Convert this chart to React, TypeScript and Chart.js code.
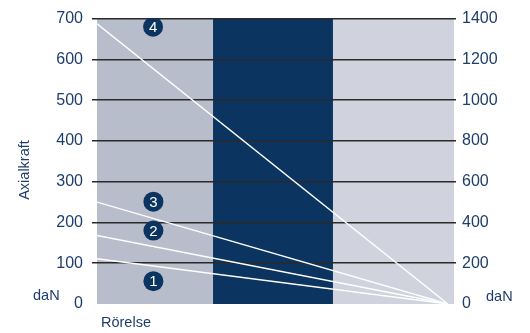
import React, { useEffect, useRef } from "react";
import { Chart, registerables } from "chart.js";

Chart.register(...registerables);

// Movement axis (Rörelse) 0..100, three background bands
const bandEdges = [0, 32.5, 66.1, 100];
const bandColors = ["#b8bdcb", "#0b3560", "#d0d3de"];

// Force curves: start value at movement 0, reaching 0 at lineEnd
const lineEnd = 98.3;
const startValues = [111, 168, 250, 687];

// Numbered badges
const badgeLabels = ["1", "2", "3", "4"];
const badgeX = [15.8, 15.8, 15.8, 15.7];
const badgeY = [56, 180, 251, 680];

const leftTicks = [0, 100, 200, 300, 400, 500, 600, 700];
const rightTicks = [0, 200, 400, 600, 800, 1000, 1200, 1400];

const NAVY = "#0b3560";
const TEXT = "#1e3d6b";
const GRID = "#2a2a2a";
const FONT = "'Liberation Sans', Arial, sans-serif";

export default function App() {
  const ref = useRef<HTMLCanvasElement | null>(null);

  useEffect(() => {
    if (!ref.current) return;

    const bandsPlugin = {
      id: "bands",
      beforeDraw(chart: any) {
        const { ctx, chartArea, scales } = chart;
        const x = scales.x;
        ctx.save();
        for (let i = 0; i < bandColors.length; i++) {
          const x0 = x.getPixelForValue(bandEdges[i]);
          const x1 = x.getPixelForValue(bandEdges[i + 1]);
          ctx.fillStyle = bandColors[i];
          ctx.fillRect(x0, chartArea.top, x1 - x0, chartArea.bottom - chartArea.top);
        }
        ctx.restore();
      },
    };

    const textPlugin = {
      id: "texts",
      afterDatasetsDraw(chart: any) {
        const { ctx, scales } = chart;
        ctx.save();
        ctx.fillStyle = "#ffffff";
        ctx.font = `15px ${FONT}`;
        ctx.textAlign = "center";
        ctx.textBaseline = "middle";
        for (let i = 0; i < badgeLabels.length; i++) {
          const px = scales.x.getPixelForValue(badgeX[i]);
          const py = scales.y.getPixelForValue(badgeY[i]);
          ctx.fillText(badgeLabels[i], px, py + 1);
        }
        ctx.restore();
      },
      afterDraw(chart: any) {
        const { ctx, chartArea } = chart;
        ctx.save();
        ctx.fillStyle = TEXT;
        ctx.font = `14.5px ${FONT}`;
        ctx.textBaseline = "middle";
        ctx.textAlign = "left";
        ctx.fillText("daN", 33, 296);
        ctx.fillText("daN", 486, 297);
        ctx.fillText("Rörelse", chartArea.left + 4, 323);
        ctx.translate(25, 170);
        ctx.rotate(-Math.PI / 2);
        ctx.textAlign = "center";
        ctx.fillText("Axialkraft", 0, 0);
        ctx.restore();
      },
    };

    const lineSets = startValues.map((v) => ({
      type: "line" as const,
      data: [
        { x: 0, y: v },
        { x: lineEnd, y: 0 },
      ],
      borderColor: "#ffffff",
      borderWidth: 1.4,
      pointRadius: 0,
      yAxisID: "y",
      order: 2,
    }));

    const badgeSet = {
      type: "scatter" as const,
      data: badgeX.map((x, i) => ({ x, y: badgeY[i] })),
      backgroundColor: NAVY,
      borderWidth: 0,
      pointRadius: 10,
      yAxisID: "y",
      order: 1,
    };

    const chart = new Chart(ref.current, {
      type: "line",
      data: { datasets: [...lineSets, badgeSet] as any },
      plugins: [bandsPlugin, textPlugin],
      options: {
        animation: false,
        responsive: false,
        events: [],
        layout: { padding: { top: 16, bottom: 29, left: 0, right: 0 } },
        plugins: { legend: { display: false }, tooltip: { enabled: false } },
        scales: {
          x: {
            type: "linear",
            min: 0,
            max: 100,
            display: false,
          },
          y: {
            type: "linear",
            position: "left",
            min: 0,
            max: 700,
            afterBuildTicks(axis: any) {
              axis.ticks = leftTicks.map((v) => ({ value: v }));
            },
            afterFit(axis: any) {
              axis.width = 97;
            },
            border: { display: false },
            grid: {
              color: (c: any) => (c.tick && c.tick.value === 0 ? "rgba(0,0,0,0)" : GRID),
              lineWidth: 1.5,
              tickLength: 5,
            },
            ticks: {
              color: TEXT,
              padding: 9,
              font: { family: FONT, size: 16 },
              callback: (v: any) => String(v),
            },
          },
          y2: {
            type: "linear",
            position: "right",
            min: 0,
            max: 1400,
            afterBuildTicks(axis: any) {
              axis.ticks = rightTicks.map((v) => ({ value: v }));
            },
            afterFit(axis: any) {
              axis.width = 76;
            },
            border: { display: false },
            grid: {
              drawOnChartArea: false,
              color: (c: any) => (c.tick && c.tick.value === 0 ? "rgba(0,0,0,0)" : GRID),
              lineWidth: 1.5,
              tickLength: 2,
            },
            ticks: {
              color: TEXT,
              padding: 6,
              font: { family: FONT, size: 16 },
              callback: (v: any) => String(v),
            },
          },
        },
      } as any,
    });

    return () => chart.destroy();
  }, []);

  return (
    <div style={{ position: "absolute", left: 0, top: 0, width: 530, height: 333, background: "#fff" }}>
      <canvas ref={ref} width={530} height={333} style={{ width: 530, height: 333, display: "block" }} />
    </div>
  );
}
